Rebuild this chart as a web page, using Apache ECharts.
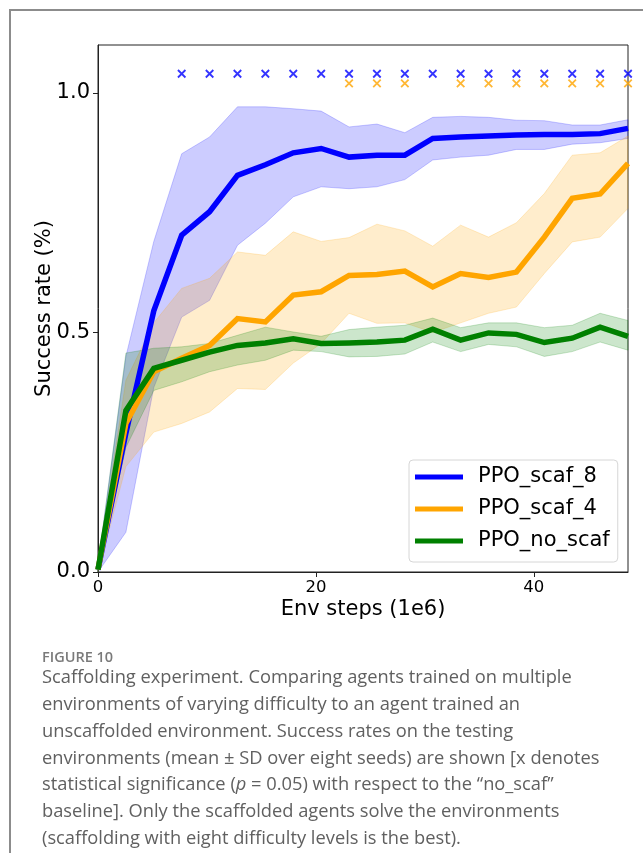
<!DOCTYPE html>
<html>
<head>
<meta charset="utf-8">
<script src="https://cdn.jsdelivr.net/npm/echarts@6/dist/echarts.min.js"></script>
<style>
html,body{margin:0;padding:0;background:#fff;}
#chart{width:643px;height:853px;}
</style>
</head>
<body>
<div id="chart"></div>
<script>
// ---- data (Env steps in 1e6) ----
const steps = [0, 2.56, 5.12, 7.68, 10.24, 12.8, 15.36, 17.92, 20.48, 23.04, 25.6, 28.16, 30.72, 33.28, 35.84, 38.4, 40.96, 43.52, 46.08, 48.64];

const scaf8Mean = [0.005, 0.29, 0.545, 0.703, 0.752, 0.828, 0.85, 0.875, 0.884, 0.866, 0.870, 0.870, 0.905, 0.908, 0.910, 0.912, 0.913, 0.913, 0.915, 0.926];
const scaf8Low  = [0.0, 0.083, 0.385, 0.532, 0.567, 0.682, 0.728, 0.783, 0.804, 0.800, 0.804, 0.819, 0.860, 0.866, 0.870, 0.882, 0.882, 0.893, 0.896, 0.905];
const scaf8High = [0.015, 0.45, 0.69, 0.873, 0.908, 0.971, 0.971, 0.967, 0.962, 0.929, 0.935, 0.917, 0.949, 0.951, 0.949, 0.943, 0.942, 0.933, 0.933, 0.944];

const scaf4Mean = [0.005, 0.31, 0.418, 0.446, 0.473, 0.529, 0.522, 0.578, 0.585, 0.619, 0.621, 0.628, 0.595, 0.623, 0.615, 0.626, 0.699, 0.780, 0.789, 0.853];
const scaf4Low  = [0.0, 0.22, 0.292, 0.31, 0.334, 0.383, 0.381, 0.436, 0.477, 0.54, 0.519, 0.52, 0.50, 0.52, 0.54, 0.553, 0.623, 0.689, 0.699, 0.759];
const scaf4High = [0.015, 0.40, 0.52, 0.592, 0.613, 0.668, 0.661, 0.710, 0.690, 0.698, 0.726, 0.712, 0.680, 0.724, 0.699, 0.729, 0.790, 0.870, 0.875, 0.91];

const noScafMean = [0.005, 0.337, 0.425, 0.442, 0.459, 0.473, 0.478, 0.487, 0.477, 0.478, 0.480, 0.484, 0.507, 0.484, 0.499, 0.496, 0.479, 0.488, 0.511, 0.492];
const noScafLow  = [0.0, 0.26, 0.379, 0.397, 0.418, 0.432, 0.442, 0.463, 0.46, 0.449, 0.45, 0.455, 0.48, 0.46, 0.475, 0.47, 0.45, 0.46, 0.48, 0.463];
const noScafHigh = [0.015, 0.457, 0.467, 0.47, 0.477, 0.494, 0.511, 0.501, 0.492, 0.506, 0.511, 0.515, 0.53, 0.51, 0.52, 0.52, 0.51, 0.515, 0.54, 0.525];

// significance markers (x positions) and their plotting levels
const sig8Steps = [7.68, 10.24, 12.8, 15.36, 17.92, 20.48, 23.04, 25.6, 28.16, 30.72, 33.28, 35.84, 38.4, 40.96, 43.52, 46.08, 48.64];
const sig4Steps = [23.04, 25.6, 28.16, 33.28, 35.84, 38.4, 40.96, 43.52, 46.08, 48.64];
const sig8Level = 1.04;
const sig4Level = 1.02;

const seriesNames = ['PPO_scaf_8', 'PPO_scaf_4', 'PPO_no_scaf'];
const colors = ['#0000ff', '#ffa500', '#008000'];
const bandColors = ['rgba(0,0,255,0.2)', 'rgba(255,165,0,0.2)', 'rgba(0,128,0,0.2)'];

const xTicks = [0, 20, 40];
const yTicks = [0.0, 0.5, 1.0];

const captionTitle = 'FIGURE 10';
const captionLines = [
  'Scaffolding experiment. Comparing agents trained on multiple',
  'environments of varying difficulty to an agent trained an',
  'unscaffolded environment. Success rates on the testing',
  'environments (mean \u00b1 SD over eight seeds) are shown [x denotes',
  'statistical significance ({i|p} = 0.05) with respect to the \u201cno_scaf\u201d',
  'baseline]. Only the scaffolded agents solve the environments',
  '(scaffolding with eight difficulty levels is the best).'
];

// ---- build ----
const FONT = 'DejaVu Sans';
const means = [scaf8Mean, scaf4Mean, noScafMean];
const lows = [scaf8Low, scaf4Low, noScafLow];
const highs = [scaf8High, scaf4High, noScafHigh];

const series = [];
// SD bands (one polygon each, positioned by the axis scales)
for (let k = 0; k < 3; k++) {
  const low = lows[k], high = highs[k];
  series.push({
    type: 'custom', silent: true, z: 1,
    data: steps.map((x, i) => [x, low[i], high[i]]),
    encode: { x: 0, y: [1, 2] },
    renderItem: function (params, api) {
      if (params.dataIndex !== 0) return null;
      const pts = [];
      for (let i = 0; i < steps.length; i++) pts.push(api.coord([steps[i], high[i]]));
      for (let i = steps.length - 1; i >= 0; i--) pts.push(api.coord([steps[i], low[i]]));
      return {
        type: 'polygon',
        shape: { points: pts },
        style: { fill: bandColors[k], stroke: bandColors[k], lineWidth: 1 }
      };
    }
  });
}
// mean lines
for (let k = 0; k < 3; k++) {
  series.push({
    name: seriesNames[k], type: 'line', symbol: 'none', z: 3 + k,
    data: steps.map((x, i) => [x, means[k][i]]),
    lineStyle: { width: 5.5, color: colors[k], join: 'miter' },
    itemStyle: { color: colors[k] }
  });
}
// significance markers
const xPath = 'path://M0,0L10,10M10,0L0,10';
series.push({
  type: 'scatter', symbol: xPath, symbolSize: 7.5, z: 6,
  data: sig8Steps.map(x => [x, sig8Level]),
  itemStyle: { color: 'rgba(0,0,0,0)', borderColor: colors[0], borderWidth: 1.8 }
});
series.push({
  type: 'scatter', symbol: xPath, symbolSize: 7.5, z: 6,
  data: sig4Steps.map(x => [x, sig4Level]),
  itemStyle: { color: 'rgba(0,0,0,0)', borderColor: colors[1], borderWidth: 1.8 }
});

const graphics = [
  { type: 'rect', z: -10, silent: true,
    shape: { x: 10, y: 10, width: 700, height: 900 },
    style: { fill: 'none', stroke: '#8c8c8c', lineWidth: 2 } },
  { type: 'text', left: 42, top: 650, silent: true,
    style: { text: captionTitle, fontFamily: 'Open Sans', fontWeight: 600, fontSize: 14.5, fill: '#7a7a7a' } }
];
captionLines.forEach((t, i) => {
  graphics.push({
    type: 'text', left: 42, top: 669 + i * 26.8, silent: true,
    style: {
      text: t, fontFamily: 'Open Sans', fontSize: 18.3, fill: '#606060',
      rich: { i: { fontFamily: 'Open Sans', fontSize: 18.3, fontStyle: 'italic', fill: '#606060' } }
    }
  });
});

const option = {
  animation: false,
  backgroundColor: '#ffffff',
  grid: { left: 98, top: 45, width: 530, height: 527, show: true, borderColor: '#222', borderWidth: 1, backgroundColor: 'transparent' },
  legend: {
    data: seriesNames, orient: 'vertical', left: 409, top: 460,
    padding: [6, 8, 10, 6], itemGap: 10, itemWidth: 48, itemHeight: 5,
    icon: 'rect',
    backgroundColor: 'rgba(255,255,255,0.85)', borderColor: '#d6d6d6', borderWidth: 1, borderRadius: 4,
    textStyle: { fontFamily: FONT, fontSize: 21, color: '#000', lineHeight: 22, padding: [0, 0, 0, 10] }
  },
  xAxis: {
    type: 'value', min: 0, max: steps[steps.length - 1], interval: 20,
    name: 'Env steps (1e6)', nameLocation: 'middle', nameGap: 27, nameMoveOverlap: false,
    nameTextStyle: { fontFamily: FONT, fontSize: 21, color: '#000' },
    axisLine: { show: true, onZero: false, lineStyle: { color: '#222', width: 1 } },
    axisTick: { show: true, length: 5, lineStyle: { color: '#222' } },
    axisLabel: { fontFamily: FONT, fontSize: 16.5, color: '#000', margin: 7, showMaxLabel: false,
      formatter: v => (xTicks.indexOf(v) >= 0 ? String(v) : '') },
    splitLine: { show: false }
  },
  yAxis: {
    type: 'value', min: 0, max: 1.1, interval: 0.5,
    name: 'Success rate (%)', nameLocation: 'middle', nameGap: 43, nameRotate: 90, nameMoveOverlap: false,
    nameTextStyle: { fontFamily: FONT, fontSize: 21, color: '#000' },
    axisLine: { show: true, onZero: false, lineStyle: { color: '#222', width: 1 } },
    axisTick: { show: true, length: 5, lineStyle: { color: '#222' } },
    axisLabel: { fontFamily: FONT, fontSize: 21, color: '#000', margin: 8, showMaxLabel: false,
      formatter: v => (yTicks.some(t => Math.abs(t - v) < 1e-9) ? v.toFixed(1) : '') },
    splitLine: { show: false }
  },
  graphic: graphics,
  series: series
};

const chart = echarts.init(document.getElementById('chart'), null, { renderer: 'canvas' });
chart.setOption(option);
</script>
</body>
</html>
